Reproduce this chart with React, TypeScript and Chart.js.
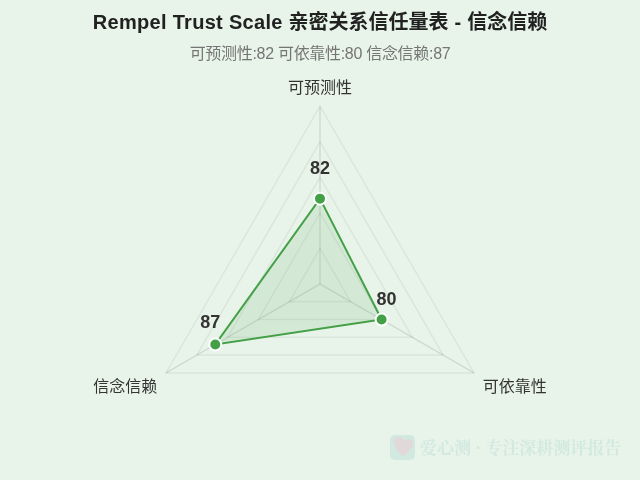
import React, { useRef, useEffect } from "react";
import { Chart, registerables } from "chart.js";

Chart.register(...registerables);

const categories = ["可预测性", "可依靠性", "信念信赖"];
const scores = [82, 80, 87];
const scaleMin = 70;
const scaleMax = 95;
const scaleStep = 5;

const titleText = "Rempel Trust Scale 亲密关系信任量表 - 信念信赖";
const subtitleText = "可预测性:82 可依靠性:80 信念信赖:87";
const watermarkText = "爱心测 · 专注深耕测评报告";

const SANS = '"Liberation Sans", "Noto Sans CJK SC", sans-serif';
const GREEN = "#43a047";

// value labels, shifted from each point
const labelShift = [
  [0, -30],
  [5, -20],
  [-5, -21],
];

// centred text, latin runs get a little extra tracking
const drawRuns = (ctx, text, cx, y, latinSpacing, cjkSpacing) => {
  const runs = text.match(/[\x00-\x7f]+|[^\x00-\x7f]+/g);
  const spacing = (run) => (/^[\x00-\x7f]/.test(run) ? latinSpacing : cjkSpacing);
  const widths = runs.map((run) => {
    ctx.letterSpacing = spacing(run);
    return ctx.measureText(run).width;
  });
  let x = cx - widths.reduce((a, b) => a + b, 0) / 2;
  runs.forEach((run, i) => {
    ctx.letterSpacing = spacing(run);
    ctx.fillText(run, x, y);
    x += widths[i];
  });
  ctx.letterSpacing = "0px";
};

const header = {
  id: "header",
  beforeDraw(chart) {
    const { ctx } = chart;
    ctx.save();
    ctx.textAlign = "left";
    ctx.textBaseline = "middle";
    ctx.font = "bold 20px " + SANS;
    ctx.fillStyle = "#212121";
    drawRuns(ctx, titleText, 320, 23, "0.3px", "0px");
    ctx.font = "16px " + SANS;
    ctx.fillStyle = "#757575";
    drawRuns(ctx, subtitleText, 320, 55, "-0.3px", "-0.3px");
    ctx.restore();
  },
};

const valueLabels = {
  id: "valueLabels",
  afterDatasetsDraw(chart) {
    const { ctx } = chart;
    const points = chart.getDatasetMeta(0).data;
    ctx.save();
    ctx.font = "bold 18px " + SANS;
    ctx.fillStyle = "#333333";
    ctx.textAlign = "center";
    ctx.textBaseline = "middle";
    points.forEach((pt, i) => {
      ctx.fillText(String(scores[i]), pt.x + labelShift[i][0], pt.y + labelShift[i][1]);
    });
    ctx.restore();
  },
};

const watermark = {
  id: "watermark",
  afterDraw(chart) {
    const { ctx } = chart;
    ctx.save();
    ctx.globalAlpha = 0.45;
    ctx.fillStyle = "#b5dcd8";
    ctx.beginPath();
    ctx.roundRect(390, 435, 25, 25, 5);
    ctx.fill();
    ctx.fillStyle = "#f3c6d0";
    ctx.beginPath();
    ctx.moveTo(403, 456);
    ctx.bezierCurveTo(392, 447, 391, 437, 399, 437);
    ctx.bezierCurveTo(402, 437, 404, 439, 405, 441);
    ctx.bezierCurveTo(407, 438, 413, 438, 413, 443);
    ctx.bezierCurveTo(413, 448, 408, 453, 403, 456);
    ctx.fill();
    ctx.fillStyle = "#b5dcd8";
    ctx.font = 'bold 17px "Noto Serif CJK SC", serif';
    ctx.textAlign = "left";
    ctx.textBaseline = "middle";
    ctx.fillText(watermarkText, 420, 448);
    ctx.restore();
  },
};

const App = () => {
  const chartRef = useRef(null);

  useEffect(() => {
    document.body.style.margin = "0";
    const myChart = new Chart(chartRef.current, {
      type: "radar",
      data: {
        labels: categories,
        datasets: [
          {
            data: scores,
            borderColor: GREEN,
            borderWidth: 2,
            backgroundColor: "rgba(67,160,71,0.12)",
            fill: true,
            pointRadius: 6,
            pointBorderWidth: 2,
            pointBorderColor: "#ffffff",
            pointBackgroundColor: GREEN,
          },
        ],
      },
      options: {
        animation: false,
        responsive: false,
        layout: { padding: { left: 0, right: 0, top: 66, bottom: 4 } },
        plugins: {
          legend: { display: false },
          tooltip: { enabled: false },
        },
        scales: {
          r: {
            min: scaleMin,
            max: scaleMax,
            ticks: { display: false, stepSize: scaleStep },
            grid: { color: "rgba(0,0,0,0.06)", lineWidth: 1.5 },
            angleLines: { color: "rgba(0,0,0,0.1)", lineWidth: 1.5 },
            pointLabels: {
              color: "#333333",
              font: { family: SANS, size: 16 },
              padding: (ctx) => (ctx.index === 0 ? 8 : 10),
            },
          },
        },
      },
      plugins: [header, valueLabels, watermark],
    });
    return () => myChart.destroy();
  }, []);

  return (
    <div style={{ width: 640, height: 480, background: "#e8f4e9" }}>
      <canvas ref={chartRef} width={640} height={480} style={{ display: "block" }}></canvas>
    </div>
  );
};

export default App;
